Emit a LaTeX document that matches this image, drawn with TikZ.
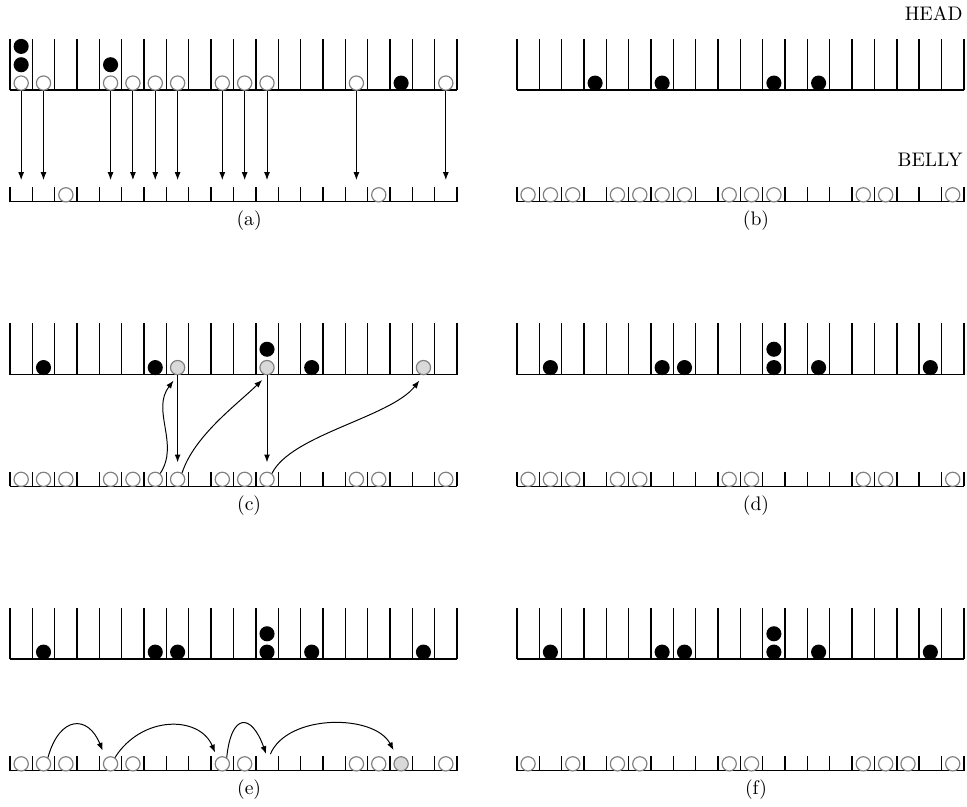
\documentclass[tikz,border=0pt]{standalone}
\usepackage{tikz}
\usetikzlibrary{arrows.meta,positioning,calc}

\begin{document}
\begin{tikzpicture}[x=0.4cm, y=0.4cm,
    bin/.style={line width=0.7pt},
    blk/.style={circle, fill=black, inner sep=0pt, minimum size=0.27cm},
    wht/.style={circle, draw=black!50, fill=white, line width=0.6pt, inner sep=0pt, minimum size=0.255cm},
    gry/.style={wht, fill=black!15},
    arr/.style={-{Latex[length=4pt, width=3pt]}, line width=0.5pt},
    lbl/.style={font=\normalsize, inner sep=0pt}
]
\useasboundingbox (-0.447,-32.04) rectangle (42.82,4.027);

% racks: head on top, belly 5 below
\foreach \ox/\oy in {0/0, 22.68/0, 0/-12.73, 22.68/-12.73, 0/-25.46, 22.68/-25.46} {
  \draw[bin] (\ox,\oy) -- ++(20,0);
  \draw[bin] (\ox,\oy-5) -- ++(20,0);
  \foreach \i in {0,...,20} {
    \draw[bin] (\ox+\i,\oy) -- ++(0,2.3);
    \draw[bin] (\ox+\i,\oy-5) -- ++(0,0.65);
  }
}

\node[lbl, anchor=east] (head) at (42.64,3.42) {HEAD};
\node[lbl, anchor=east] (belly) at (42.64,-3.13) {BELLY};

% (a)
\foreach \i in {0,1,4,5,6,7,9,10,11,15,19} {
  \node[wht] (a-h\i) at (\i+0.5,0.31) {};
  \coordinate (a-s\i) at (\i+0.5,-4.03);
  \draw[arr] (a-h\i.south) -- (a-s\i);
}
\node[blk] (a-k0) at (0.5,1.13) {};
\node[blk] (a-k0t) at (0.5,1.95) {};
\node[blk] (a-k4) at (4.5,1.13) {};
\node[blk] (a-k17) at (17.5,0.31) {};
\foreach \i in {2,16} \node[wht] (a-b\i) at (\i+0.5,-4.69) {};
\node[lbl] (cap-a) at (10.7,-5.85) {(a)};

% (b)
\begin{scope}[shift={(22.68,0)}]
\foreach \i in {3,6,11,13} \node[blk] (b-k\i) at (\i+0.5,0.31) {};
\foreach \i in {0,1,2,4,5,6,7,9,10,11,15,16,19} \node[wht] (b-b\i) at (\i+0.5,-4.69) {};
\node[lbl] (cap-b) at (10.7,-5.85) {(b)};
\end{scope}

% (c)
\begin{scope}[shift={(0,-12.73)}]
\foreach \i in {1,6,13} \node[blk] (c-k\i) at (\i+0.5,0.31) {};
\node[blk] (c-k11) at (11.5,1.13) {};
\foreach \i in {7,11,18} \node[gry] (c-h\i) at (\i+0.5,0.31) {};
\foreach \i in {0,1,2,4,5,6,7,9,10,11,15,16,19} \node[wht] (c-b\i) at (\i+0.5,-4.69) {};
\draw[arr, shorten >=4.7pt] (c-h7.south) -- (c-b7.north);
\draw[arr, shorten >=4.7pt] (c-h11.south) -- (c-b11.north);
\draw[arr, shorten >=3.4pt] (c-b6.50) .. controls +(0.88,1.33) and +(-1.2,-1.57) .. (c-h7.south);
\draw[arr, shorten >=3.4pt] (c-b7.55) .. controls +(0.54,1.66) and +(-1.37,-1.33) .. (c-h11.south);
\draw[arr, shorten >=3.4pt] (c-b11.50) .. controls +(0.85,1.73) and +(-1.47,-1.88) .. (c-h18.south);
\node[lbl] (cap-c) at (10.7,-5.85) {(c)};
\end{scope}

% (d)
\begin{scope}[shift={(22.68,-12.73)}]
\foreach \i in {1,6,7,11,13,18} \node[blk] (d-k\i) at (\i+0.5,0.31) {};
\node[blk] (d-k11t) at (11.5,1.13) {};
\foreach \i in {0,1,2,4,5,9,10,15,16,19} \node[wht] (d-b\i) at (\i+0.5,-4.69) {};
\node[lbl] (cap-d) at (10.7,-5.85) {(d)};
\end{scope}

% (e)
\begin{scope}[shift={(0,-25.46)}]
\foreach \i in {1,6,7,11,13,18} \node[blk] (e-k\i) at (\i+0.5,0.31) {};
\node[blk] (e-k11t) at (11.5,1.13) {};
\foreach \i in {0,1,2,4,5,9,10,15,16,19} \node[wht] (e-b\i) at (\i+0.5,-4.69) {};
\node[gry] (e-b17) at (17.5,-4.69) {};
\coordinate (e-s11) at (11.55,-4.5);
\draw[arr, shorten >=4pt] (e-b1.55) .. controls +(0.53,1.9) and +(-0.78,1.93) .. (e-b4.130);
\draw[arr, shorten >=3pt] (e-b4.55) .. controls +(1.2,1.9) and +(-0.8,1.9) .. (e-b9.130);
\draw[arr, shorten >=3pt] (e-b9.55) .. controls +(0.2,2.0) and +(-0.75,2.1) .. (e-s11);
\draw[arr, shorten <=3pt, shorten >=4pt] (e-s11) .. controls +(0.85,2.05) and +(-1.03,1.95) .. (e-b17.120);
\node[lbl] (cap-e) at (10.7,-5.85) {(e)};
\end{scope}

% (f)
\begin{scope}[shift={(22.68,-25.46)}]
\foreach \i in {1,6,7,11,13,18} \node[blk] (f-k\i) at (\i+0.5,0.31) {};
\node[blk] (f-k11t) at (11.5,1.13) {};
\foreach \i in {0,2,4,5,9,10,15,16,17,19} \node[wht] (f-b\i) at (\i+0.5,-4.69) {};
\node[lbl] (cap-f) at (10.7,-5.85) {(f)};
\end{scope}
\end{tikzpicture}
\end{document}
